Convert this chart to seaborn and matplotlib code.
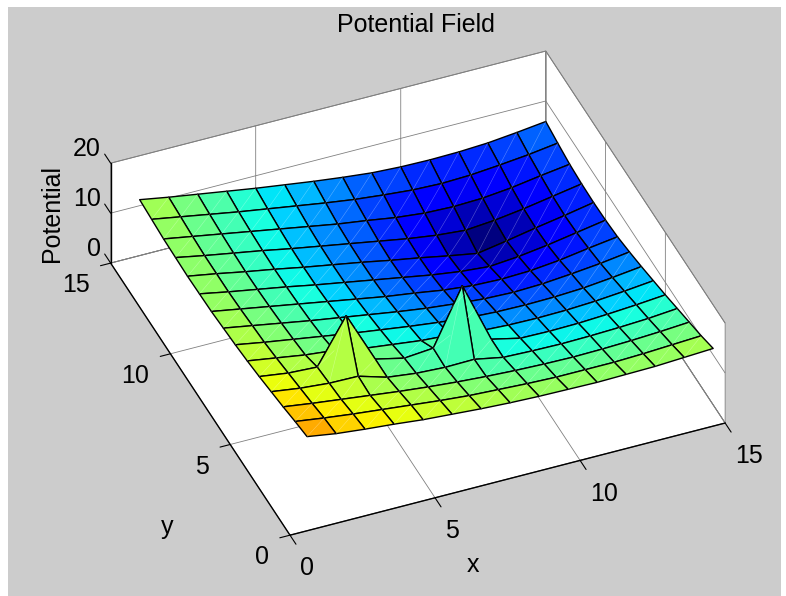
import numpy as np
import matplotlib
matplotlib.use("Agg")
import matplotlib.pyplot as plt
import seaborn as sns
from matplotlib.patches import Rectangle
from mpl_toolkits.mplot3d.art3d import Line3DCollection

sns.set_theme(style="white", rc={'xtick.bottom': True, 'ytick.left': True})
plt.rcParams['font.family'] = ['Liberation Sans', 'DejaVu Sans']
plt.rcParams['grid.color'] = '#808080'
plt.rcParams['grid.linewidth'] = 0.6

x_vals = [1, 2, 3, 4, 5, 6, 7, 8, 9, 10, 11, 12, 13, 14, 15]
y_vals = [1, 2, 3, 4, 5, 6, 7, 8, 9, 10, 11, 12, 13, 14, 15]
x_ticks = [0, 5, 10, 15]
y_ticks = [0, 5, 10, 15]
z_ticks = [0, 10, 20]

# potential, one row per y value
row_y01 = [14.6, 13.7, 13.1, 12.6, 12.0, 11.6, 11.2, 10.9, 10.7, 10.6, 10.5, 10.6, 10.7, 11.0, 11.3]
row_y02 = [14.0, 13.2, 12.5, 11.9, 11.3, 10.7, 10.2, 9.9, 9.6, 9.4, 9.4, 9.4, 9.6, 9.9, 10.2]
row_y03 = [13.3, 12.5, 11.8, 11.1, 10.4, 9.8, 9.3, 8.9, 8.6, 8.4, 8.3, 8.4, 8.6, 8.9, 9.3]
row_y04 = [12.7, 11.9, 11.4, 11.3, 9.6, 8.9, 8.6, 8.7, 7.6, 7.4, 7.3, 7.4, 7.6, 7.9, 8.4]
row_y05 = [12.1, 11.3, 11.0, 19.8, 9.6, 8.3, 8.8, 19.8, 7.6, 6.3, 6.2, 6.3, 6.6, 7.0, 7.5]
row_y06 = [11.6, 10.7, 9.8, 9.2, 8.1, 7.4, 6.7, 6.3, 5.6, 5.3, 5.2, 5.3, 5.6, 6.1, 6.7]
row_y07 = [11.2, 10.2, 9.3, 8.4, 7.5, 6.7, 5.9, 5.2, 4.6, 4.3, 4.2, 4.3, 4.6, 5.2, 5.9]
row_y08 = [10.9, 9.9, 8.9, 7.9, 7.0, 6.1, 5.2, 4.4, 3.8, 3.3, 3.1, 3.3, 3.8, 4.4, 5.2]
row_y09 = [10.6, 9.6, 8.6, 7.6, 6.6, 5.6, 4.6, 3.8, 2.9, 2.3, 2.1, 2.3, 2.9, 3.8, 4.6]
row_y10 = [10.5, 9.4, 8.4, 7.4, 6.3, 5.3, 4.3, 3.3, 2.3, 1.5, 1.0, 1.5, 2.3, 3.3, 4.3]
row_y11 = [10.4, 9.4, 8.3, 7.3, 6.2, 5.2, 4.2, 3.1, 2.1, 1.0, 0.0, 1.0, 2.1, 3.1, 4.2]
row_y12 = [10.5, 9.4, 8.4, 7.4, 6.3, 5.3, 4.3, 3.3, 2.3, 1.5, 1.0, 1.5, 2.3, 3.3, 4.3]
row_y13 = [10.6, 9.6, 8.6, 7.6, 6.6, 5.6, 4.6, 3.8, 2.9, 2.3, 2.1, 2.3, 2.9, 3.8, 4.6]
row_y14 = [10.9, 9.9, 8.9, 7.9, 7.0, 6.1, 5.2, 4.4, 3.8, 3.3, 3.1, 3.3, 3.8, 4.4, 5.2]
row_y15 = [11.2, 10.2, 9.3, 8.4, 7.5, 6.7, 5.9, 5.2, 4.6, 4.3, 4.2, 4.3, 4.6, 5.2, 5.9]

Z = np.array([row_y01, row_y02, row_y03, row_y04, row_y05, row_y06, row_y07, row_y08,
              row_y09, row_y10, row_y11, row_y12, row_y13, row_y14, row_y15])
X, Y = np.meshgrid(x_vals, y_vals)

W, H = 786, 596
fig = plt.figure(figsize=(W / 100, H / 100), dpi=100, facecolor='white')
fig.add_artist(Rectangle((8 / W, 0), 773 / W, 589 / H, transform=fig.transFigure,
                         facecolor='#cccccc', edgecolor='none', zorder=-10))

size = 658
cx, cy = 409, 302
ax = fig.add_axes([(cx - size / 2) / W, (H - cy - size / 2) / H, size / W, size / H],
                  projection='3d', proj_type='ortho', computed_zorder=False)
ax.patch.set_alpha(0)
ax.view_init(elev=38.7, azim=-112.4)
ax.set_box_aspect((1, 1, 0.272), zoom=1.0)
ax.set_xlim(0, 15, view_margin=0)
ax.set_ylim(0, 15, view_margin=0)
ax.set_zlim(0, 20, view_margin=0)

cmap = matplotlib.colormaps['jet']
ax.plot_surface(X, Y, Z, rstride=1, cstride=1, facecolors=cmap(Z / 20), shade=False,
                edgecolor='black', linewidth=1.0, zorder=1)

# pale seams across the faces, left out where the spikes hide them
hidden = {(3, 4), (4, 4), (3, 5), (4, 5), (7, 4), (8, 4), (7, 5), (8, 5)}
seams = []
for j in range(len(y_vals) - 1):
    for i in range(len(x_vals) - 1):
        if (i, j) in hidden:
            continue
        seams.append([(X[j, i], Y[j, i], Z[j, i]), (X[j + 1, i + 1], Y[j + 1, i + 1], Z[j + 1, i + 1])])
ax.add_collection3d(Line3DCollection(seams, colors='white', linewidths=0.4, alpha=0.35, zorder=2))

ax.set_xticks(x_ticks)
ax.set_yticks(y_ticks)
ax.set_zticks(z_ticks)
ax.tick_params(labelsize=18, colors='black', pad=6)
ax.yaxis.set_tick_params(pad=4)
ax.zaxis.set_tick_params(pad=-4)
for axis in (ax.xaxis, ax.yaxis, ax.zaxis):
    axis.set_pane_color((1, 1, 1, 1))
    axis.pane.set_edgecolor('#808080')
    axis.pane.set_linewidth(0.7)
    axis.line.set_color('black')
    axis.line.set_linewidth(1.0)
    axis._axinfo['tick']['inward_factor'] = 0.0
    axis._axinfo['tick']['outward_factor'] = 0.0

ax.zaxis.set_ticks_position('upper')
# z ticks point along y like matlab, not along x
ax.zaxis._get_tickdir = lambda position: 1

# tick marks
for v in x_ticks:
    ax.plot([v, v], [0, -0.5], [0, 0], color='black', lw=0.8, zorder=3)
for v in y_ticks:
    ax.plot([0, -0.35], [v, v], [0, 0], color='black', lw=0.8, zorder=3)
for v in z_ticks:
    ax.plot([0, 0], [15, 15.5], [v, v], color='black', lw=0.8, zorder=3)

for tick in ax.xaxis.get_major_ticks():
    tick.label1.set_ha('left')
for tick in ax.yaxis.get_major_ticks():
    tick.label1.set_ha('right')
for tick in ax.zaxis.get_major_ticks():
    tick.label1.set_ha('right')
    tick.label1.set_va('bottom')

fig.text(473 / W, 1 - 565 / H, 'x', ha='center', va='center', fontsize=18, color='black')
fig.text(167 / W, 1 - 527 / H, 'y', ha='center', va='center', fontsize=18, color='black')
fig.text(52 / W, 1 - 213 / H, 'Potential', ha='center', va='center', rotation=90, fontsize=18, color='black')
fig.text(416 / W, 1 - 25 / H, 'Potential Field', ha='center', va='center', fontsize=18, color='black')

fig.savefig('out.png', dpi=100, facecolor=fig.get_facecolor())
